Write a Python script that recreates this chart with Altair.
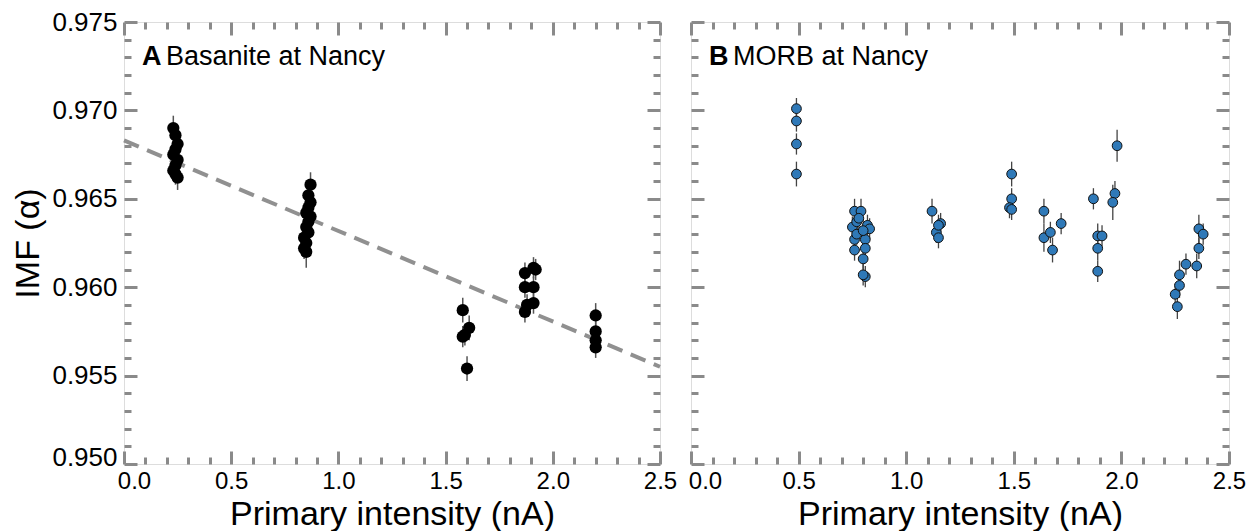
import altair as alt
import pandas as pd

# ---------------- data ----------------
# Panel A: Basanite at Nancy
xa = [0.23, 0.24, 0.25, 0.24, 0.23, 0.25, 0.24, 0.23, 0.24, 0.25,
      0.87, 0.86, 0.87, 0.86, 0.85, 0.87, 0.86, 0.85, 0.86, 0.84, 0.85, 0.84, 0.85,
      1.58, 1.61, 1.59, 1.58, 1.60,
      1.87, 1.91, 1.87, 1.92, 1.88, 1.91, 1.87, 1.91,
      2.20, 2.20, 2.20, 2.20]
ya = [0.9690, 0.9686, 0.9681, 0.9678, 0.9675, 0.9672, 0.9669, 0.9666, 0.9664, 0.9662,
      0.9658, 0.9652, 0.9648, 0.9645, 0.9642, 0.9640, 0.9637, 0.9634, 0.9631, 0.9628, 0.9625, 0.9622, 0.9620,
      0.9587, 0.9577, 0.9573, 0.9572, 0.9554,
      0.9608, 0.9611, 0.9600, 0.9610, 0.9590, 0.9600, 0.9586, 0.9591,
      0.9584, 0.9575, 0.9570, 0.9566]
ea = [0.0007, 0.0006, 0.0006, 0.0006, 0.0006, 0.0006, 0.0006, 0.0006, 0.0006, 0.0007,
      0.0007, 0.0006, 0.0006, 0.0006, 0.0006, 0.0006, 0.0006, 0.0006, 0.0006, 0.0006, 0.0006, 0.0006, 0.0009,
      0.0007, 0.0007, 0.0006, 0.0006, 0.0007,
      0.0006, 0.0006, 0.0006, 0.0006, 0.0006, 0.0006, 0.0006, 0.0006,
      0.0007, 0.0006, 0.0006, 0.0006]
reg_x = [0.0, 2.5]
reg_y = [0.9683, 0.9555]

# Panel B: MORB at Nancy
xb = [0.49, 0.49, 0.49, 0.49,
      0.76, 0.79, 0.75, 0.77, 0.82, 0.83, 0.76, 0.81, 0.76, 0.81, 0.80, 0.81, 0.80, 0.78, 0.77, 0.80,
      1.12, 1.16, 1.14, 1.15, 1.15,
      1.49, 1.49, 1.48, 1.49,
      1.64, 1.64, 1.67, 1.68, 1.72,
      1.87, 1.89, 1.91, 1.89, 1.89,
      1.98, 1.97, 1.96,
      2.25, 2.26, 2.27, 2.27, 2.30, 2.35, 2.36, 2.36, 2.38]
yb = [0.9701, 0.9694, 0.9681, 0.9664,
      0.9643, 0.9643, 0.9634, 0.9637, 0.9635, 0.9633, 0.9627, 0.9627, 0.9621, 0.9622, 0.9616, 0.9606, 0.9607, 0.9639, 0.9630, 0.9632,
      0.9643, 0.9636, 0.9631, 0.9628, 0.9635,
      0.9664, 0.9650, 0.9645, 0.9644,
      0.9643, 0.9628, 0.9631, 0.9621, 0.9636,
      0.9650, 0.9629, 0.9629, 0.9622, 0.9609,
      0.9680, 0.9653, 0.9648,
      0.9596, 0.9589, 0.9607, 0.9601, 0.9613, 0.9612, 0.9622, 0.9633, 0.9630]
eb = [0.0006, 0.0006, 0.0006, 0.0007,
      0.0007, 0.0007, 0.0006, 0.0006, 0.0006, 0.0006, 0.0006, 0.0006, 0.0006, 0.0006, 0.0006, 0.0006, 0.0006, 0.0006, 0.0006, 0.0006,
      0.0007, 0.0006, 0.0006, 0.0006, 0.0006,
      0.0007, 0.0006, 0.0006, 0.0006,
      0.0007, 0.0008, 0.0006, 0.0007, 0.0006,
      0.0006, 0.0007, 0.0006, 0.0007, 0.0006,
      0.0009, 0.0007, 0.0010,
      0.0006, 0.0007, 0.0008, 0.0007, 0.0006, 0.0007, 0.0006, 0.0008, 0.0006]

x_label_values = [0.0, 0.5, 1.0, 1.5, 2.0, 2.5]
x_tick_values = [0.0, 0.1, 0.2, 0.3, 0.4, 0.5, 0.6, 0.7, 0.8, 0.9, 1.0, 1.1, 1.2,
                 1.3, 1.4, 1.5, 1.6, 1.7, 1.8, 1.9, 2.0, 2.1, 2.2, 2.3, 2.4, 2.5]
y_label_values = [0.950, 0.955, 0.960, 0.965, 0.970, 0.975]
y_tick_values = [0.950, 0.951, 0.952, 0.953, 0.954, 0.955, 0.956, 0.957, 0.958, 0.959,
                 0.960, 0.961, 0.962, 0.963, 0.964, 0.965, 0.966, 0.967, 0.968, 0.969,
                 0.970, 0.971, 0.972, 0.973, 0.974, 0.975]

# ---------------- styling ----------------
WA, WB, H = 536, 538, 442
GRAY = "#8a8a8a"
FONT = "Liberation Sans"

dfa = pd.DataFrame({"x": xa, "y": ya, "e": ea})
dfa["lo"] = dfa["y"] - dfa["e"]
dfa["hi"] = dfa["y"] + dfa["e"]
dfb = pd.DataFrame({"x": xb, "y": yb, "e": eb})
dfb["lo"] = dfb["y"] - dfb["e"]
dfb["hi"] = dfb["y"] + dfb["e"]
dfr = pd.DataFrame({"x": reg_x, "y": reg_y})

xs = alt.Scale(domain=[0, 2.5], nice=False, zero=False)
ys = alt.Scale(domain=[0.950, 0.975], nice=False, zero=False)

X_MAJOR = "abs(datum.value*2 - round(datum.value*2)) < 0.001"
Y_MAJOR = "abs(datum.value*200 - round(datum.value*200)) < 0.001"


def tick_axis(orient, offset, values, test):
    return alt.Axis(orient=orient, offset=-offset, values=values, labels=False,
                    domain=False, grid=False, title=None, ticks=True,
                    tickColor=GRAY, tickWidth=3,
                    tickSize={"condition": {"test": test, "value": 13}, "value": 7})


def main_x_axis(first_offset):
    return alt.Axis(orient="bottom", values=x_label_values, format=".1f",
                    labelFontSize=24, labelColor="black", labelPadding=5, labelFlush=False,
                    labelOffset={"condition": {"test": "datum.value < 0.01", "value": first_offset}, "value": 0},
                    ticks=False, domain=False, grid=False,
                    title="Primary intensity (nA)", titleFontSize=34,
                    titleFontWeight="normal", titleColor="black", titlePadding=4)


def main_y_axis():
    return alt.Axis(orient="left", values=y_label_values, format=".3f",
                    labelFontSize=26, labelColor="black", labelPadding=7, labelFlush=False,
                    labelOffset={"condition": {"test": "datum.value < 0.9505", "value": -7}, "value": 0},
                    ticks=False, domain=False, grid=False,
                    title="IMF (α)", titleFontSize=34, titleFontWeight="normal",
                    titleColor="black", titlePadding=6)


def tick_layers(df, W):
    base = alt.Chart(df).mark_point(opacity=0)
    return [
        base.encode(x=alt.X("x:Q", scale=xs, axis=tick_axis("top", H, x_tick_values, X_MAJOR)),
                    y=alt.Y("y:Q", scale=ys, axis=None)),
        base.encode(x=alt.X("x:Q", scale=xs, axis=tick_axis("bottom", H, x_tick_values, X_MAJOR)),
                    y=alt.Y("y:Q", scale=ys, axis=None)),
        base.encode(x=alt.X("x:Q", scale=xs, axis=None),
                    y=alt.Y("y:Q", scale=ys, axis=tick_axis("right", W, y_tick_values, Y_MAJOR))),
        base.encode(x=alt.X("x:Q", scale=xs, axis=None),
                    y=alt.Y("y:Q", scale=ys, axis=tick_axis("left", W, y_tick_values, Y_MAJOR))),
    ]


def panel_label(letter, text):
    d = pd.DataFrame({"a": [0]})
    l1 = alt.Chart(d).mark_text(text=letter, font=FONT, fontSize=27, fontWeight="bold",
                                align="left", baseline="alphabetic", color="black").encode(
        x=alt.value(18), y=alt.value(43))
    l2 = alt.Chart(d).mark_text(text=text, font=FONT, fontSize=27, align="left",
                                baseline="alphabetic", color="black").encode(
        x=alt.value(42), y=alt.value(43))
    return [l1, l2]


# Panel A
errA = alt.Chart(dfa).mark_rule(color="#555555", strokeWidth=1.5).encode(
    x=alt.X("x:Q", scale=xs, axis=main_x_axis(10)),
    y=alt.Y("lo:Q", scale=ys, axis=main_y_axis()),
    y2="hi:Q")
regA = alt.Chart(dfr).mark_line(color="#909090", strokeWidth=4, strokeDash=[16, 9]).encode(
    x=alt.X("x:Q", scale=xs, axis=None), y=alt.Y("y:Q", scale=ys, axis=None))
ptsA = alt.Chart(dfa).mark_circle(size=150, color="black", opacity=1).encode(
    x=alt.X("x:Q", scale=xs, axis=None), y=alt.Y("y:Q", scale=ys, axis=None))
panelA = alt.layer(errA, regA, ptsA, *tick_layers(dfa, WA), *panel_label("A", "Basanite at Nancy")).resolve_axis(
    x="independent", y="independent").properties(width=WA, height=H)

# Panel B
errB = alt.Chart(dfb).mark_rule(color="#444444", strokeWidth=1.3).encode(
    x=alt.X("x:Q", scale=xs, axis=main_x_axis(14)),
    y=alt.Y("lo:Q", scale=ys, axis=None),
    y2="hi:Q")
ptsB = alt.Chart(dfb).mark_circle(size=95, color="#2f79b8", opacity=1, stroke="#111111",
                                  strokeWidth=1).encode(
    x=alt.X("x:Q", scale=xs, axis=None), y=alt.Y("y:Q", scale=ys, axis=None))
panelB = alt.layer(errB, ptsB, *tick_layers(dfb, WB), *panel_label("B", "MORB at Nancy")).resolve_axis(
    x="independent", y="independent").properties(width=WB, height=H)

chart = alt.hconcat(panelA, panelB, spacing=31, bounds="flush").properties(
    padding={"left": 11, "top": 8, "right": 5, "bottom": 0}
).configure_view(stroke=GRAY, strokeWidth=3.5).configure_axis(
    labelFont=FONT, titleFont=FONT
).configure(background="white")

chart.save("out.html", embed_options={"renderer": "svg", "actions": False})
